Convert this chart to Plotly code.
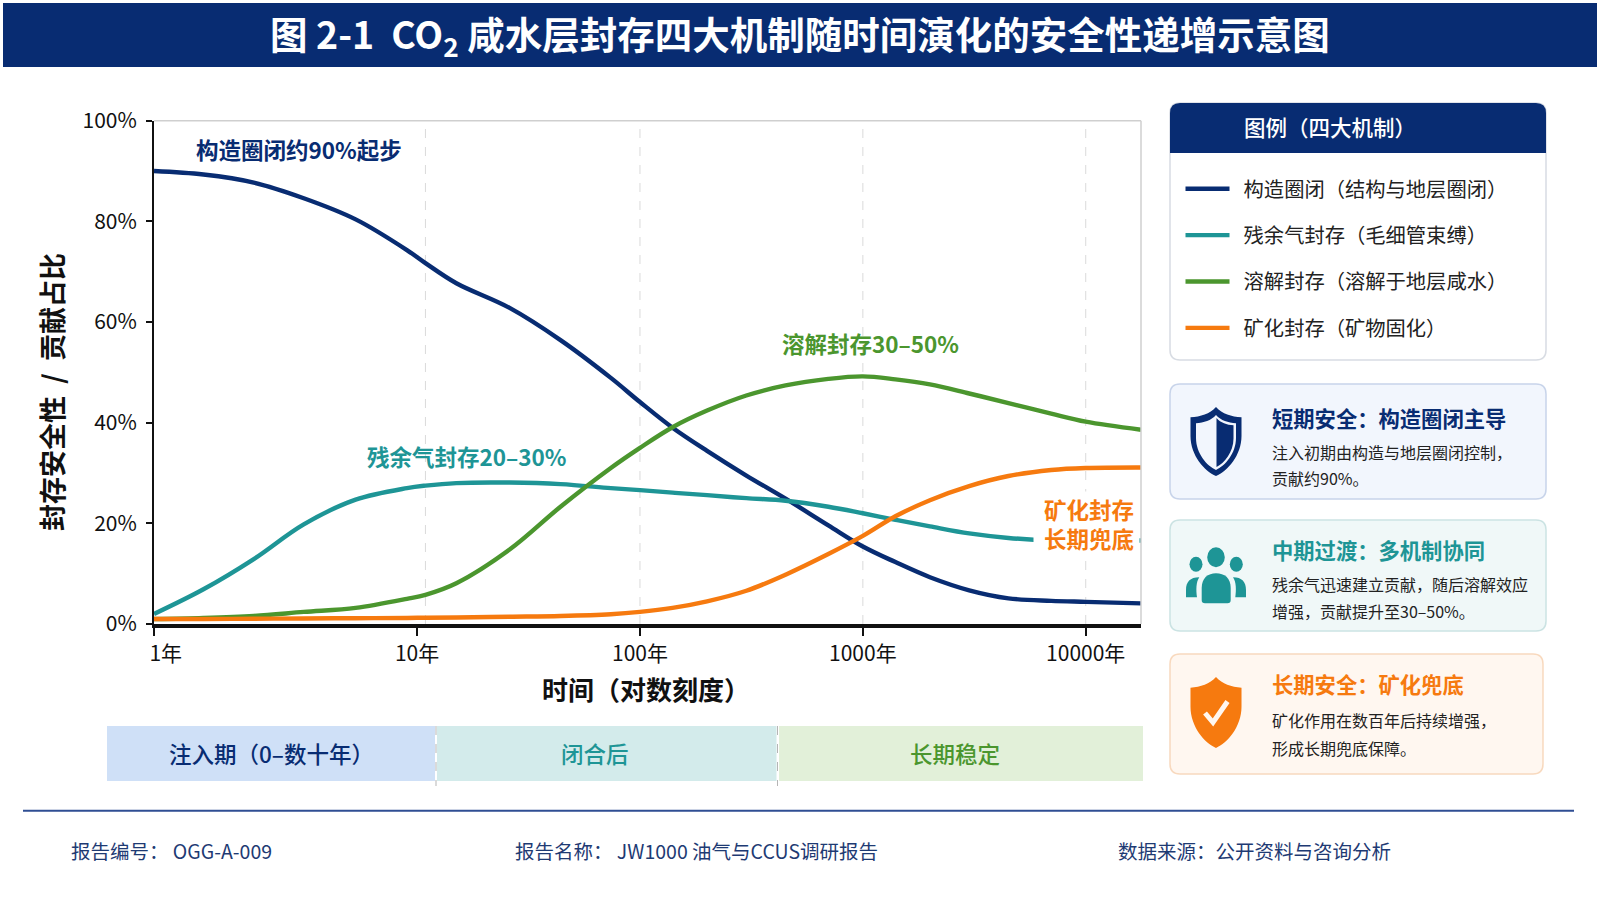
import plotly.graph_objects as go

W, H = 1600, 900
FONT = "Noto Sans CJK SC"
NAVY = "#082C72"
TEAL = "#1E9596"
GREEN = "#4B962E"
ORANGE = "#F67A0F"

years = [0.66, 1.1, 1.85, 3.1, 5.3, 9, 10.9, 15, 26, 44, 74, 100, 140, 200, 300, 450, 700,
         1000, 1400, 2000, 3000, 4500, 7000, 10000, 17700]
structural = [90, 89.3, 87.7, 84.6, 80.4, 74.3, 71.7, 67.7, 62.8, 56.4, 48.9, 44.1, 39.0, 34.4,
              29.5, 24.9, 19.6, 15.4, 12.3, 9.3, 6.7, 5.1, 4.6, 4.4, 4.1]
residual = [2, 6.9, 12.9, 19.8, 24.7, 27, 27.5, 28, 28.1, 27.8, 27, 26.6, 26.1, 25.6,
            25, 24.5, 23.3, 22, 20.7, 19.4, 18, 17.1, 16.6, 16.6, 16.6]
dissolved = [1, 1.2, 1.6, 2.4, 3.2, 5, 5.8, 8.1, 14.8, 23.3, 31, 35, 39.1, 42.4,
             45.4, 47.4, 48.7, 49.2, 48.6, 47.6, 45.8, 43.9, 41.8, 40.2, 38.6]
mineral = [1, 1, 1.05, 1.1, 1.15, 1.2, 1.25, 1.3, 1.45, 1.6, 1.95, 2.4, 3.2, 4.5,
           6.6, 9.8, 13.9, 17.5, 21.4, 24.6, 27.4, 29.4, 30.6, 31, 31.1]

series_names = ["构造圈闭（结构与地层圈闭）", "残余气封存（毛细管束缚）", "溶解封存（溶解于地层咸水）", "矿化封存（矿物固化）"]
series_colors = [NAVY, TEAL, GREEN, ORANGE]
series_values = [structural, residual, dissolved, mineral]

x_tick_years = [0.66, 10, 100, 1000, 10000]
x_tick_labels = ["\u00a0\u00a0\u00a0\u00a0\u00a01年", "10年", "100年", "1000年", "10000年"]
grid_years = [10.9, 100, 1000, 10000]
y_ticks = [0, 20, 40, 60, 80, 100]
y_tick_labels = ["0%", "20%", "40%", "60%", "80%", "100%"]


# everything outside the plot area is laid out in page pixels
def px(x):
    return x / W


def py(y):
    return 1 - y / H


def to_path(cmds):
    out = []
    for c in cmds:
        if isinstance(c, str):
            out.append(c)
        else:
            out.append(f"{px(c[0]):.5f},{py(c[1]):.5f}")
    return " ".join(out)


def round_rect(x0, y0, x1, y1, r=10, top=True, bottom=True):
    rt = r if top else 0
    rb = r if bottom else 0
    return to_path(["M", (x0 + rt, y0), "L", (x1 - rt, y0), "Q", (x1, y0), (x1, y0 + rt),
                    "L", (x1, y1 - rb), "Q", (x1, y1), (x1 - rb, y1),
                    "L", (x0 + rb, y1), "Q", (x0, y1), (x0, y1 - rb),
                    "L", (x0, y0 + rt), "Q", (x0, y0), (x0 + rt, y0), "Z"])


def shield(cx, top, hw, h, side=0):
    # side: 0 whole shield, 1 right half only
    def p(u, v):
        return (cx + u * hw, top + v * h)
    right = ["C", p(0.25, 0.1), p(0.6, 0.14), p(1, 0.15), "L", p(1, 0.42),
             "C", p(1, 0.7), p(0.45, 0.93), p(0, 1)]
    left = ["C", p(-0.45, 0.93), p(-1, 0.7), p(-1, 0.42), "L", p(-1, 0.15),
            "C", p(-0.6, 0.14), p(-0.25, 0.1), p(0, 0), "Z"]
    if side:
        return to_path(["M", p(0, 0)] + right + ["Z"])
    return to_path(["M", p(0, 0)] + right + left)


fig = go.Figure()

for name, color, vals in zip(series_names, series_colors, series_values):
    fig.add_trace(go.Scatter(x=years, y=vals, mode="lines", name="\u00a0\u00a0" + name, legendgroup=name,
                             line=dict(color=color, width=4.4, shape="spline", smoothing=1.0),
                             hoverinfo="skip"))

shapes = []


def add_path(path, fill, line=None, lw=0):
    shapes.append(dict(type="path", xref="paper", yref="paper", path=path, fillcolor=fill,
                       line=dict(color=line or "rgba(0,0,0,0)", width=lw)))


def add_line(x0, y0, x1, y1, color, width, dash="solid"):
    shapes.append(dict(type="line", xref="paper", yref="paper", x0=px(x0), y0=py(y0), x1=px(x1), y1=py(y1),
                       line=dict(color=color, width=width, dash=dash)))


def add_oval(cx, cy, rx, ry, color):
    shapes.append(dict(type="circle", xref="paper", yref="paper", x0=px(cx - rx), y0=py(cy - ry),
                       x1=px(cx + rx), y1=py(cy + ry), fillcolor=color, line=dict(width=0)))


def add_rect(x0, y0, x1, y1, color):
    shapes.append(dict(type="rect", xref="paper", yref="paper", x0=px(x0), y0=py(y0), x1=px(x1), y1=py(y1),
                       fillcolor=color, line=dict(width=0)))


# title bar
add_rect(3, 3, 1597, 67, NAVY)

# white patch behind the orange label, the teal line stops here
add_rect(1130, 515, 1139.5, 552, "#FFFFFF")

# plot frame and grid
add_line(154, 120.7, 1141, 120.7, "#CFCFCF", 1.5)
add_line(1141, 120.7, 1141, 624, "#CFCFCF", 1.5)
for g in grid_years:
    shapes.append(dict(type="line", xref="x", yref="y", x0=g, x1=g, y0=0, y1=100, layer="below",
                       line=dict(color="#DADADA", width=1, dash="dash")))

# phase bands
add_rect(107, 726, 435, 781, "#CFE0F7")
add_rect(437, 726, 776.5, 781, "#D3EBEB")
add_rect(779, 726, 1143, 781, "#E2F0D9")
add_line(436, 726, 436, 786, "#B5B5B5", 1, "dash")
add_line(777.5, 726, 777.5, 786, "#B5B5B5", 1, "dash")

# footer rule
add_line(23, 810.7, 1574, 810.7, "#2F4E93", 2)

# legend panel
add_path(round_rect(1170, 103, 1546, 360), "#FFFFFF", "#D8DCE3", 1.5)
add_path(round_rect(1170, 103, 1546, 153, bottom=False), NAVY)

# cards
add_path(round_rect(1170, 384, 1546, 499), "#F2F6FD", "#C8D4EA", 1.5)
add_path(round_rect(1170, 520, 1546, 631), "#F0F8F8", "#CBE3E3", 1.5)
add_path(round_rect(1170, 654, 1543, 774), "#FFF7F0", "#F8D9BE", 1.5)

# card 1 icon, two tone shield
add_path(shield(1216, 407, 25.5, 69), NAVY)
add_path(shield(1216, 415, 20, 55), "#F2F6FD")
add_path(shield(1216.5, 418, 17, 49, side=1), NAVY)

# card 2 icon, three people
add_oval(1216, 557.3, 8.8, 10, TEAL)
add_oval(1196, 564.3, 6.5, 7.5, TEAL)
add_oval(1236.3, 564.3, 6.5, 7.5, TEAL)
add_path(to_path(["M", (1201.7, 588), "C", (1201.7, 578), (1208, 573.3), (1216, 573.3),
                  "C", (1224.5, 573.3), (1230.7, 578), (1230.7, 588), "L", (1230.7, 600),
                  "Q", (1230.7, 603.3), (1227.5, 603.3), "L", (1205, 603.3),
                  "Q", (1201.7, 603.3), (1201.7, 600), "Z"]), TEAL)
add_path(to_path(["M", (1199.3, 577.3), "C", (1196, 582), (1196, 590), (1197, 597.3),
                  "L", (1186, 597.3), "L", (1186, 590), "C", (1186, 582), (1190, 577.3), (1199.3, 577.3), "Z"]), TEAL)
add_path(to_path(["M", (1233, 577.3), "C", (1236.3, 582), (1236.3, 590), (1235.3, 597.3),
                  "L", (1246, 597.3), "L", (1246, 590), "C", (1246, 582), (1242, 577.3), (1233, 577.3), "Z"]), TEAL)

# card 3 icon, shield with check
add_path(shield(1216, 677, 25.5, 71), ORANGE)
add_path(to_path(["M", (1205, 713), "L", (1213, 722.5), "L", (1227.5, 701.5)]), "rgba(0,0,0,0)", "#FFF7F0", 5)

annotations = []


def note(text, x, y, color, size, bold=False, anchor="left", weight=None, **kw):
    # glyphs sit about 2px low against the box centre
    font = dict(family=FONT, size=size, color=color)
    if weight:
        font["weight"] = weight
    annotations.append(dict(text=f"<b>{text}</b>" if bold else text, xref="paper", yref="paper",
                            x=px(x), y=py(y - 2), xanchor=anchor, yanchor="middle", showarrow=False,
                            font=font, **kw))


note("图 2-1  CO<sub>2</sub> 咸水层封存四大机制随时间演化的安全性递增示意图", 800, 37, "#FFFFFF", 37.5, True, "center")

note("构造圈闭约90%起步", 194, 151, NAVY, 22.5, True)
note("残余气封存20–30%", 365, 458, TEAL, 22.5, True)
note("溶解封存30–50%", 780, 345, GREEN, 22.5, True)
note("矿化封存<br>长期兜底", 1136, 525, ORANGE, 22.5, True, "right", align="right", width=99, bgcolor="#FFFFFF")

note("时间（对数刻度）", 646, 690, "#111111", 26, True, "center")
annotations.append(dict(text="<b>封存安全性\u00a0\u00a0/\u00a0\u00a0贡献占比</b>", xref="paper", yref="paper", x=px(52), y=py(392),
                        xanchor="center", yanchor="middle", showarrow=False, textangle=-90,
                        font=dict(family=FONT, size=27, color="#111111")))

note("注入期（0–数十年）", 271.5, 755, NAVY, 22.5, False, "center", weight=500)
note("闭合后", 595, 755, TEAL, 22.5, False, "center", weight=500)
note("长期稳定", 955, 755, GREEN, 22.5, False, "center", weight=500)

note("图例（四大机制）", 1242, 129, "#FFFFFF", 21.5, False, weight=500)

note("短期安全：构造圈闭主导", 1270, 419, NAVY, 21.3, True)
note("注入初期由构造与地层圈闭控制，", 1270, 454, "#222222", 16)
note("贡献约90%。", 1270, 480, "#222222", 16)
note("中期过渡：多机制协同", 1270, 551, TEAL, 21.3, True)
note("残余气迅速建立贡献，随后溶解效应", 1270, 586, "#222222", 16)
note("增强，贡献提升至30–50%。", 1270, 613, "#222222", 16)
note("长期安全：矿化兜底", 1270, 685, ORANGE, 21.3, True)
note("矿化作用在数百年后持续增强，", 1270, 722, "#222222", 16)
note("形成长期兜底保障。", 1270, 750, "#222222", 16)

note("报告编号：\u00a0OGG-A-009", 69, 852, "#1E3A73", 19.5)
note("报告名称：\u00a0JW1000 油气与CCUS调研报告", 513, 852, "#1E3A73", 19.5)
note("数据来源：公开资料与咨询分析", 1116, 852, "#1E3A73", 19.5)

fig.update_layout(
    width=W, height=H,
    margin=dict(l=0, r=0, t=0, b=0, autoexpand=False),
    paper_bgcolor="#FFFFFF",
    plot_bgcolor="#FFFFFF",
    font=dict(family=FONT, color="#111111"),
    shapes=shapes,
    annotations=annotations,
    showlegend=True,
    legend=dict(x=px(1180.5), y=py(169), xanchor="left", yanchor="top", bgcolor="rgba(0,0,0,0)",
                itemwidth=44, tracegroupgap=17, traceorder="grouped", font=dict(family=FONT, size=20.3, color="#222222")),
    xaxis=dict(type="log", domain=[px(154), px(1141)], range=[-0.1805, 4.248], tickvals=x_tick_years,
               ticktext=x_tick_labels, ticks="outside", ticklen=8, tickwidth=2, tickcolor="#111111",
               showgrid=False, zeroline=False, showline=True, linecolor="#111111", linewidth=3.5,
               automargin=False, tickfont=dict(family=FONT, size=21, color="#111111")),
    yaxis=dict(domain=[py(624), py(120.7)], range=[0, 100], tickvals=y_ticks, ticktext=y_tick_labels,
               ticks="outside", ticklen=6, tickwidth=2, tickcolor="#111111", ticklabelstandoff=5,
               showgrid=False, zeroline=False, showline=True, linecolor="#111111", linewidth=2,
               automargin=False, tickfont=dict(family=FONT, size=21, color="#111111")),
)

fig.write_html("out.html", config={"displayModeBar": False}, post_script="document.body.style.margin='0';")
